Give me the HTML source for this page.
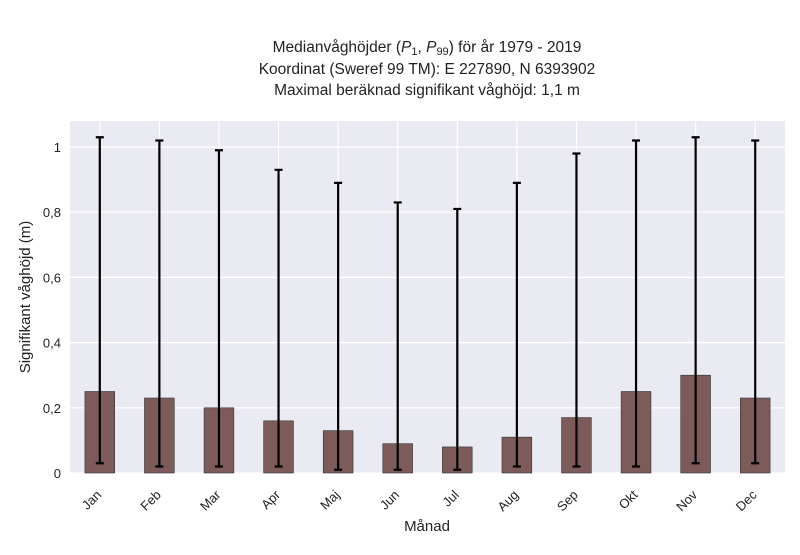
<!DOCTYPE html>
<html><head><meta charset="utf-8"><style>
body{margin:0;background:#fff;font-family:"Liberation Sans",sans-serif}
</style></head><body>
<svg id="c" width="800" height="550" xmlns="http://www.w3.org/2000/svg" font-family="Liberation Sans, sans-serif">
<g font-size="15.5" fill="#222" text-anchor="middle">
<text x="427" y="52">Medianvåghöjder (<tspan font-style="italic">P</tspan><tspan font-size="11" dy="3">1</tspan><tspan dy="-3">, </tspan><tspan font-style="italic">P</tspan><tspan font-size="11" dy="3">99</tspan><tspan dy="-3">) för år 1979 - 2019</tspan></text>
<text x="427" y="74">Koordinat (Sweref 99 TM): E 227890, N 6393902</text>
<text x="427" y="95">Maximal beräknad signifikant våghöjd: 1,1 m</text>
</g>
<rect x="70" y="121" width="715" height="352" fill="#eaeaf2"/>
<g id="grid"></g><g id="bars"></g><g id="err"></g><g id="ticks"></g>
<text x="427" y="531" text-anchor="middle" font-size="15" fill="#222">Månad</text>
<text transform="translate(30,297) rotate(-90)" text-anchor="middle" font-size="15" fill="#222">Signifikant våghöjd (m)</text>
</svg>
<script>
const months=["Jan","Feb","Mar","Apr","Maj","Jun","Jul","Aug","Sep","Okt","Nov","Dec"];
const medians=[0.25,0.23,0.20,0.16,0.13,0.09,0.08,0.11,0.17,0.25,0.30,0.23];
const p1=[0.03,0.02,0.02,0.02,0.01,0.01,0.01,0.02,0.02,0.02,0.03,0.03];
const p99=[1.03,1.02,0.99,0.93,0.89,0.83,0.81,0.89,0.98,1.02,1.03,1.02];
const yTicks=[0,0.2,0.4,0.6,0.8,1];
const yTickLabels=["0","0,2","0,4","0,6","0,8","1"];
const NS="http://www.w3.org/2000/svg";
const L=70,R=785,Y0=473,PX=326;
const step=(R-L)/months.length;
const xs=i=>L+step*(i+0.5);
const ys=v=>Y0-v*PX;
function mk(t,a,p){const e=document.createElementNS(NS,t);for(const k in a)e.setAttribute(k,a[k]);p.appendChild(e);return e;}
const G=document.getElementById('grid'),B=document.getElementById('bars'),E=document.getElementById('err'),T=document.getElementById('ticks');
yTicks.forEach((v,i)=>{
 const l=mk('line',{x1:L,x2:R,y1:ys(v),y2:ys(v),stroke:'#fff','stroke-width':1.2},G);
 
 
 const t=mk('text',{x:L-9,y:ys(v)+5,'text-anchor':'end','font-size':13,fill:'#222'},T);
 t.textContent=yTickLabels[i];
 
 
});
months.forEach((m,i)=>{
 const x=xs(i);
 const g=mk('line',{x1:x,x2:x,y1:121,y2:Y0,stroke:'#fff','stroke-width':1.2},G);
 
 
 const bw=step*0.5;
 const b=mk('rect',{x:x-bw/2,y:ys(medians[i]),width:bw,height:Y0-ys(medians[i]),fill:'#7d5b5b',stroke:'#333','stroke-width':0.6},B);
 
 
 const e=mk('path',{d:`M${x},${ys(p1[i])}V${ys(p99[i])}M${x-4},${ys(p1[i])}H${x+4}M${x-4},${ys(p99[i])}H${x+4}`,stroke:'#000','stroke-width':2.2,fill:'none'},E);
 
 
 const t=mk('text',{x:x,y:490,'text-anchor':'end','font-size':13,fill:'#222',transform:`rotate(-45 ${x+8} ${490})`},T);
 t.textContent=m;
 
 
});
</script>
</body></html>
